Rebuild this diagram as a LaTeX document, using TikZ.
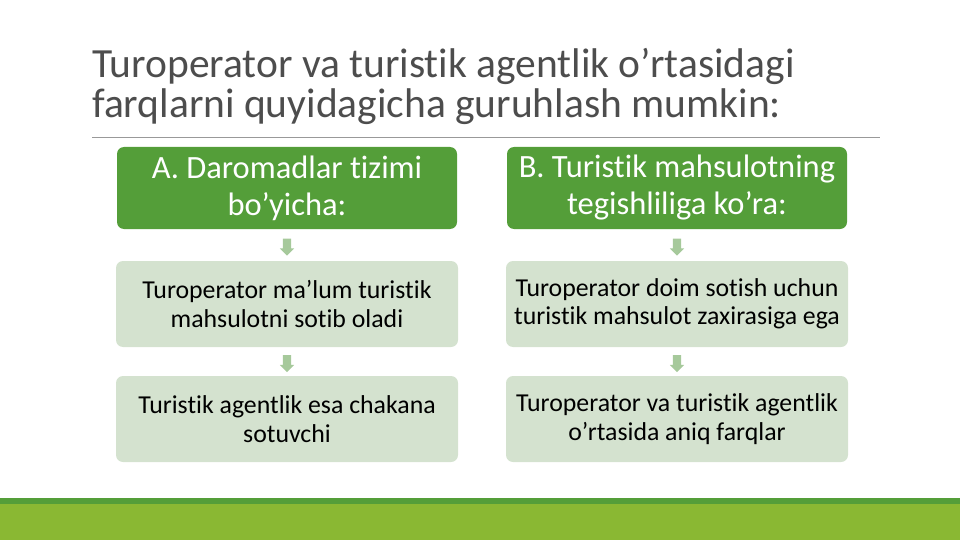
\documentclass[tikz,border=0pt]{standalone}
\usepackage{fontspec}
\setmainfont{Carlito}[Ligatures={NoCommon}]
\usetikzlibrary{shapes.arrows,calc}
\definecolor{acc}{HTML}{549E39}
\definecolor{acc2}{HTML}{8AB833}
\definecolor{pale}{HTML}{D4E2CF}
\definecolor{arr}{HTML}{A6C99B}
\definecolor{ttl}{HTML}{4D4D4D}
\begin{document}
\begin{tikzpicture}[x=1pt,y=-1pt,
  head/.style={draw=none,fill=acc,rounded corners=7pt,minimum width=340pt,minimum height=82pt,
    text width=336pt,align=flush center,text=white,font=\fontsize{32.5}{37}\selectfont,inner sep=0pt},
  item/.style={draw=none,fill=pale,rounded corners=7pt,minimum width=342pt,minimum height=86pt,
    text width=340pt,align=flush center,text=black,font=\fontsize{25.8}{28.5}\selectfont,inner sep=0pt},
  downarr/.style={single arrow,draw=none,fill=arr,shape border rotate=270,inner sep=4pt,
    minimum height=17pt,minimum width=14pt,single arrow head extend=3pt,single arrow head indent=0pt}]
\useasboundingbox (0,0) rectangle (960,540);
% title
\node[anchor=base west,inner sep=0pt,text=ttl,font=\fontsize{41.5}{40}\selectfont,align=flush left] (title) at (92,118)
  {Turoperator va turistik agentlik o’rtasidagi\\farqlarni quyidagicha guruhlash mumkin:};
\coordinate (rl) at (92,137);
\coordinate (rr) at (880,137);
\draw[gray!80,line width=0.8pt] (rl) -- (rr);
% column A
\node[head] (ha) at (287,188) {A. Daromadlar tizimi\\bo’yicha:};
\node[item] (a1) at (287,304) {Turoperator ma’lum turistik\\mahsulotni sotib oladi};
\node[item] (a2) at (287,419) {Turistik agentlik esa chakana\\sotuvchi};
% column B
\node[head] (hb) at (677,188) {B. Turistik mahsulotning\\tegishliliga ko’ra:};
\node[item] (b1) at (677,304) {Turoperator doim sotish uchun\\turistik mahsulot zaxirasiga ega};
\node[item] (b2) at (677,419) {Turoperator va turistik agentlik\\o’rtasida aniq farqlar};
% arrows
\node[downarr] (pa1) at ($(ha.south)!0.5!(a1.north)$) {};
\node[downarr] (pa2) at ($(a1.south)!0.5!(a2.north)$) {};
\node[downarr] (pb1) at ($(hb.south)!0.5!(b1.north)$) {};
\node[downarr] (pb2) at ($(b1.south)!0.5!(b2.north)$) {};
% bottom bar
\fill[acc2] (0,504) rectangle (960,540);
\fill[acc] (0,498) rectangle (960,504);
\end{tikzpicture}
\end{document}
